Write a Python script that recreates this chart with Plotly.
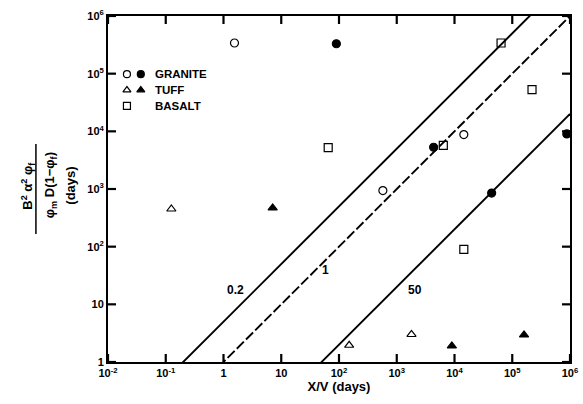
import numpy as np
import plotly.graph_objects as go

# ---- data ----
granite_open_x = [1.55, 575, 14500]
granite_open_y = [3.4e5, 940, 8800]
granite_filled_x = [90, 4350, 44000, 8.8e5]
granite_filled_y = [3.3e5, 5300, 850, 9000]
tuff_open_x = [0.125, 150, 1800]
tuff_open_y = [450, 1.95, 3.0]
tuff_filled_x = [7.1, 9000, 1.6e5]
tuff_filled_y = [470, 1.9, 2.95]
basalt_x = [65, 6400, 14500, 64000, 2.2e5]
basalt_y = [5200, 5700, 90, 3.4e5, 5.3e4]

line_ratios = [0.2, 1, 50]
line_labels = ["0.2", "1", "50"]
line_label_x = [1.6, 59, 2100]
line_label_y = [17.6, 39, 17.6]

x_tickvals = [1e-2, 1e-1, 1, 10, 1e2, 1e3, 1e4, 1e5, 1e6]
x_ticktext = ["10<sup>-2</sup>", "10<sup>-1</sup>", "1", "10", "10<sup>2</sup>",
              "10<sup>3</sup>", "10<sup>4</sup>", "10<sup>5</sup>", "10<sup>6</sup>"]
y_tickvals = [1, 10, 1e2, 1e3, 1e4, 1e5, 1e6]
y_ticktext = ["1", "10", "10<sup>2</sup>", "10<sup>3</sup>", "10<sup>4</sup>",
              "10<sup>5</sup>", "10<sup>6</sup>"]

legend_names = ["GRANITE", "TUFF", "BASALT"]

INK = "#000000"
FONT = "Liberation Sans"
XR = [-2, 6]
YR = [0, 6]
W, H = 583, 404
ML, MR, MT, MB = 108, 13, 16, 42
PW, PH = W - ML - MR, H - MT - MB
TICK = 8

def px_x(f):  # plot-area fraction -> data x (log axis)
    return 10 ** (XR[0] + (XR[1] - XR[0]) * f)

def px_y(f):
    return 10 ** (YR[0] + (YR[1] - YR[0]) * f)

fig = go.Figure()

# model lines y = x / r
xl = np.array([1e-2, 1e6])
for r in line_ratios:
    fig.add_trace(go.Scatter(
        x=xl, y=xl / r, mode="lines",
        line=dict(color=INK, width=1.9, dash="10px,3px" if r == 1 else "solid"),
        showlegend=False, hoverinfo="skip"))

def pts(x, y, symbol, size=8):
    fig.add_trace(go.Scatter(
        x=x, y=y, mode="markers", cliponaxis=False,
        marker=dict(symbol=symbol, size=size, color=INK,
                    line=dict(color=INK, width=1.2)),
        showlegend=False))

pts(granite_open_x, granite_open_y, "circle-open")
pts(granite_filled_x, granite_filled_y, "circle")
pts(tuff_open_x, tuff_open_y, "triangle-up-open")
pts(tuff_filled_x, tuff_filled_y, "triangle-up")
pts(basalt_x, basalt_y, "square-open")

# custom legend drawn inside the plot area
leg_y = [0.832, 0.786, 0.740]
leg_sym = [["circle-open", "circle"], ["triangle-up-open", "triangle-up"], ["square-open"]]
for i, syms in enumerate(leg_sym):
    for j, s in enumerate(syms):
        fig.add_trace(go.Scatter(
            x=[px_x(0.041 + 0.030 * j)], y=[px_y(leg_y[i])], mode="markers",
            marker=dict(symbol=s, size=7, color=INK, line=dict(color=INK, width=1.2)),
            showlegend=False, hoverinfo="skip"))
    fig.add_annotation(x=0.097, y=leg_y[i], xref="paper", yref="paper",
                       text=legend_names[i], showarrow=False, xanchor="left",
                       yanchor="middle",
                       font=dict(family=FONT, size=11.5, color=INK, weight=700))

for t, lx, ly in zip(line_labels, line_label_x, line_label_y):
    fig.add_annotation(x=np.log10(lx), y=np.log10(ly), text=t, showarrow=False,
                       font=dict(family=FONT, size=12, color=INK, weight=700))

# y-axis title as a fraction
ytitle = [("B<sup>2</sup> α<sup>2</sup> φ<sub>f</sub>", -0.175),
          ("φ<sub>m</sub> D(1−φ<sub>f</sub>)", -0.124),
          ("(days)", -0.082)]
for txt, px in ytitle:
    fig.add_annotation(x=px, y=0.51, xref="paper", yref="paper", text=txt,
                       textangle=-90, showarrow=False, xanchor="center",
                       yanchor="middle",
                       font=dict(family=FONT, size=13, color=INK, weight=700))
fig.add_shape(type="line", xref="paper", yref="paper", x0=-0.156, x1=-0.156,
              y0=0.37, y1=0.63, line=dict(color=INK, width=1.5))

# inward tick marks on all four sides (positions from the tick lists)
tx = TICK / PH
for v in x_tickvals:
    f = (np.log10(v) - XR[0]) / (XR[1] - XR[0])
    for y0, y1 in [(0, tx), (1, 1 - tx)]:
        fig.add_shape(type="line", xref="paper", yref="paper", x0=f, x1=f,
                      y0=y0, y1=y1, layer="above", line=dict(color=INK, width=2.2))
ty = TICK / PW
for v in y_tickvals:
    f = (np.log10(v) - YR[0]) / (YR[1] - YR[0])
    for x0, x1 in [(0, ty), (1, 1 - ty)]:
        fig.add_shape(type="line", xref="paper", yref="paper", x0=x0, x1=x1,
                      y0=f, y1=f, layer="above", line=dict(color=INK, width=2.2))

axis_common = dict(
    type="log", showgrid=False, zeroline=False, showline=True, linecolor=INK,
    linewidth=2, mirror=True, ticks="", automargin=False,
    tickfont=dict(family=FONT, size=11, color=INK, weight=700))

fig.update_layout(
    width=W, height=H, margin=dict(l=ML, r=MR, t=MT, b=MB),
    paper_bgcolor="white", plot_bgcolor="white",
    xaxis=dict(range=XR, tickmode="array", tickvals=x_tickvals, ticktext=x_ticktext,
               title=dict(text="X/V (days)", standoff=2,
                          font=dict(family=FONT, size=13, color=INK, weight=700)),
               **axis_common),
    yaxis=dict(range=YR, tickmode="array", tickvals=y_tickvals, ticktext=y_ticktext,
               **axis_common),
    showlegend=False,
)

fig.write_html("out.html")
